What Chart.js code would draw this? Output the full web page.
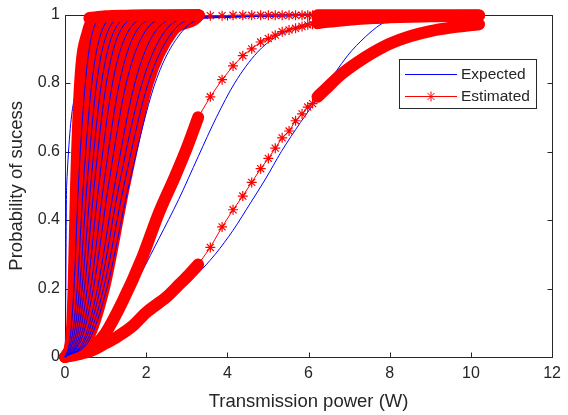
<!DOCTYPE html>
<html>
<head>
<meta charset="utf-8">
<script src="https://cdn.jsdelivr.net/npm/chart.js@4.4.0/dist/chart.umd.min.js"></script>
<style>
  html, body { margin:0; padding:0; background:#fff; }
  #wrap { width:568px; height:415px; }
</style>
</head>
<body>
<div id="wrap"><canvas id="probChart" width="568" height="415"></canvas></div>
<script>
const xTicks = [0, 2, 4, 6, 8, 10, 12];
const yTicks = [0, 0.2, 0.4, 0.6, 0.8, 1];

// steep curves near the origin: x position read at each probability level
const clusterLevels = [0, 0.05, 0.2, 0.5, 0.8, 0.95, 0.99];

const expectedClusterX = [
  [0, 0.01, 0.02, 0.04, 0.4, 0.55, 0.75],
  [0, 0.12, 0.22, 0.33, 0.5, 0.68, 0.95],
  [0, 0.16, 0.3, 0.45, 0.66, 0.9, 1.25],
  [0, 0.2, 0.36, 0.54, 0.78, 1.05, 1.45],
  [0, 0.24, 0.42, 0.63, 0.9, 1.2, 1.65],
  [0, 0.28, 0.48, 0.72, 1.02, 1.35, 1.85],
  [0, 0.32, 0.55, 0.83, 1.17, 1.55, 2.1],
  [0, 0.36, 0.63, 0.95, 1.34, 1.75, 2.35],
  [0, 0.4, 0.7, 1.07, 1.51, 1.97, 2.6],
  [0, 0.46, 0.8, 1.22, 1.72, 2.22, 2.9],
  [0, 0.5, 0.87, 1.33, 1.9, 2.45, 3.1],
  [0, 0.55, 0.95, 1.45, 2.05, 2.65, 3.3],
  [0, 0.6, 1.03, 1.57, 2.22, 2.88, 3.5]
];

const estimatedClusterX = [
  [0, 0.14, 0.2, 0.26, 0.36, 0.55, 0.8],
  [0, 0.15, 0.24, 0.33, 0.46, 0.64, 0.92],
  [0, 0.17, 0.29, 0.41, 0.58, 0.8, 1.12],
  [0, 0.19, 0.33, 0.49, 0.7, 0.95, 1.32],
  [0, 0.22, 0.38, 0.57, 0.81, 1.09, 1.52],
  [0, 0.25, 0.43, 0.65, 0.92, 1.23, 1.72],
  [0, 0.29, 0.5, 0.75, 1.05, 1.4, 1.92],
  [0, 0.33, 0.57, 0.86, 1.2, 1.58, 2.15],
  [0, 0.37, 0.64, 0.97, 1.36, 1.78, 2.4],
  [0, 0.42, 0.73, 1.1, 1.55, 2.02, 2.65],
  [0, 0.46, 0.8, 1.21, 1.68, 2.2, 2.85],
  [0, 0.5, 0.88, 1.33, 1.85, 2.4, 3.05],
  [0, 0.56, 0.97, 1.47, 2.05, 2.65, 3.25]
];

// plateau of the estimated curves along the top
const estTopDenseX = [0.6, 1.0, 1.5, 2.0, 2.5, 3.0, 3.3];
const estTopDenseY = [0.99, 0.995, 0.997, 0.998, 0.998, 0.998, 0.998];

// sampled powers where the estimated markers are sparse, then the dense tail
const sparseX = [3.58, 3.87, 4.14, 4.38, 4.6, 4.82, 5.01, 5.18, 5.35, 5.52, 5.68, 5.84, 5.98, 6.1, 6.22];
const tailX = [6.4, 6.8, 7.2, 7.6, 8.0, 8.5, 9.0, 9.5, 10.2];

const estTopSparseY = [0.997, 0.997, 0.998, 0.998, 0.998, 0.998, 0.998, 0.998, 0.998, 0.998, 0.998, 0.998, 0.998, 0.998, 0.998];
const estTopTailY = [0.998, 0.998, 0.998, 0.998, 0.998, 0.998, 0.998, 0.998, 0.998];

const est2DenseX = [0, 0.3, 0.78, 1.0, 1.41, 1.9, 2.31, 2.72, 3.0, 3.28];
const est2DenseY = [0, 0.01, 0.04, 0.07, 0.16, 0.29, 0.42, 0.53, 0.61, 0.70];
const est2SparseY = [0.76, 0.81, 0.85, 0.88, 0.90, 0.92, 0.93, 0.94, 0.95, 0.955, 0.96, 0.965, 0.97, 0.972, 0.975];
const est2TailY = [0.978, 0.983, 0.987, 0.99, 0.992, 0.994, 0.995, 0.996, 0.997];

const est3DenseX = [0, 0.4, 0.68, 1.0, 1.3, 1.66, 2.0, 2.5, 2.8, 3.05, 3.28];
const est3DenseY = [0, 0.01, 0.02, 0.04, 0.06, 0.09, 0.13, 0.175, 0.21, 0.24, 0.27];
const est3SparseY = [0.32, 0.38, 0.43, 0.47, 0.51, 0.55, 0.58, 0.61, 0.64, 0.66, 0.69, 0.71, 0.73, 0.74, 0.76];
const est3TailY = [0.78, 0.825, 0.86, 0.89, 0.915, 0.937, 0.952, 0.962, 0.972];

const exp2X = [0, 0.8, 1.41, 1.9, 2.31, 2.8, 3.28, 3.73, 4.18, 4.74, 5.2, 6.13, 7.0, 7.5, 10.2];
const exp2Y = [0, 0.035, 0.14, 0.25, 0.345, 0.46, 0.585, 0.7, 0.8, 0.89, 0.935, 0.98, 0.996, 1, 1];

const exp3X = [0, 1.0, 1.66, 2.0, 2.5, 3.2, 3.7, 4.14, 4.57, 4.94, 5.33, 5.8, 6.37, 6.96, 7.4, 7.76, 8.1, 8.4, 10.2];
const exp3Y = [0, 0.035, 0.08, 0.115, 0.16, 0.235, 0.3, 0.37, 0.45, 0.52, 0.6, 0.685, 0.78, 0.88, 0.935, 0.97, 0.99, 1, 1];

const BLUE = '#0000ff';
const RED = '#ff0000';
const AXIS = '#262626';
const FONT = '"Liberation Sans", Arial, Helvetica, sans-serif';

function pairs(xs, ys){
  return xs.map((x, i) => ({x, y: ys[i]}));
}

function blueLine(points){
  return {
    data: points,
    showLine: true,
    borderColor: BLUE,
    borderWidth: 1,
    pointRadius: 0,
    cubicInterpolationMode: 'monotone',
    clip: false
  };
}

function redBand(points, width){
  return {
    data: points,
    showLine: true,
    borderColor: RED,
    borderWidth: width || 12,
    borderCapStyle: 'round',
    borderJoinStyle: 'round',
    pointRadius: 0,
    cubicInterpolationMode: 'monotone',
    clip: false
  };
}

function redMarkers(points){
  return {
    data: points,
    showLine: true,
    borderColor: RED,
    borderWidth: 1,
    pointStyle: 'star',
    pointRadius: ctx => ctx.dataIndex === 0 ? 0 : 5,
    pointBorderColor: RED,
    pointBorderWidth: 1.2,
    clip: false
  };
}

// pushed bottom-to-top; reversed at the end because Chart.js paints dataset 0 last
function buildDatasets(){
  const sets = [];
  const clusterExp = expectedClusterX.map(xs => pairs(xs, clusterLevels).concat([{x: 10.2, y: 1}]));
  const clusterEst = estimatedClusterX.map(xs => pairs(xs, clusterLevels).concat([{x: 3.3, y: 0.998}]));

  sets.push(blueLine(clusterExp[0]));
  sets.push(blueLine(pairs(exp2X, exp2Y)));
  sets.push(blueLine(pairs(exp3X, exp3Y)));

  clusterEst.forEach(points => sets.push(redBand(points, 11)));
  sets.push(redBand(pairs(est2DenseX, est2DenseY)));
  sets.push(redBand(pairs(est3DenseX, est3DenseY)));

  clusterExp.slice(1).forEach(points => sets.push(blueLine(points)));

  sets.push(redBand(pairs(estTopDenseX, estTopDenseY)));

  sets.push(redMarkers([{x: 3.3, y: 0.998}].concat(pairs(sparseX, estTopSparseY))));
  sets.push(redMarkers([{x: 3.28, y: 0.70}].concat(pairs(sparseX, est2SparseY))));
  sets.push(redMarkers([{x: 3.28, y: 0.27}].concat(pairs(sparseX, est3SparseY))));

  const last = sparseX.length - 1;
  sets.push(redBand([{x: sparseX[last], y: estTopSparseY[last]}].concat(pairs(tailX, estTopTailY))));
  sets.push(redBand([{x: sparseX[last], y: est2SparseY[last]}].concat(pairs(tailX, est2TailY))));
  sets.push(redBand([{x: sparseX[last], y: est3SparseY[last]}].concat(pairs(tailX, est3TailY))));
  return sets.reverse();
}

const axesBox = {
  id: 'axesBox',
  beforeDatasetsDraw(chart){
    const {ctx, chartArea: a, scales} = chart;
    const l = Math.round(a.left) + 0.5, r = Math.round(a.right) + 0.5;
    const t = Math.round(a.top) + 0.5, b = Math.round(a.bottom) + 0.5;
    ctx.save();
    ctx.strokeStyle = AXIS;
    ctx.lineWidth = 1;
    ctx.beginPath();
    ctx.rect(l, t, r - l, b - t);
    xTicks.forEach(v => {
      const px = Math.round(scales.x.getPixelForValue(v)) + 0.5;
      ctx.moveTo(px, b); ctx.lineTo(px, b - 5);
      ctx.moveTo(px, t); ctx.lineTo(px, t + 5);
    });
    yTicks.forEach(v => {
      const py = Math.round(scales.y.getPixelForValue(v)) + 0.5;
      ctx.moveTo(l, py); ctx.lineTo(l + 5, py);
      ctx.moveTo(r, py); ctx.lineTo(r - 5, py);
    });
    ctx.stroke();
    ctx.restore();
  },
  afterDraw(chart){
    const {ctx, chartArea: a} = chart;
    ctx.save();
    ctx.fillStyle = AXIS;
    ctx.font = '18.5px ' + FONT;
    ctx.textAlign = 'center';
    ctx.textBaseline = 'middle';
    ctx.fillText('Transmission power (W)', (a.left + a.right) / 2, 402);
    ctx.translate(17, (a.top + a.bottom) / 2);
    ctx.rotate(-Math.PI / 2);
    ctx.fillText('Probability of sucess', 0, 0);
    ctx.restore();

    // legend box
    ctx.save();
    ctx.fillStyle = '#fff';
    ctx.strokeStyle = AXIS;
    ctx.lineWidth = 1;
    ctx.fillRect(399.5, 59.5, 137, 49);
    ctx.strokeRect(399.5, 59.5, 137, 49);
    ctx.strokeStyle = BLUE;
    ctx.beginPath(); ctx.moveTo(405, 74.5); ctx.lineTo(457, 74.5); ctx.stroke();
    ctx.strokeStyle = RED;
    ctx.beginPath(); ctx.moveTo(405, 96.5); ctx.lineTo(457, 96.5); ctx.stroke();
    Chart.helpers.drawPoint(ctx, {pointStyle: 'star', radius: 5, borderWidth: 1.2}, 431, 96.5);
    ctx.fillStyle = AXIS;
    ctx.font = '15.5px ' + FONT;
    ctx.textAlign = 'left';
    ctx.textBaseline = 'middle';
    ctx.fillText('Expected', 461, 75);
    ctx.fillText('Estimated', 461, 97);
    ctx.restore();
  }
};

new Chart(document.getElementById('probChart'), {
  type: 'scatter',
  data: {datasets: buildDatasets()},
  options: {
    responsive: false,
    animation: false,
    devicePixelRatio: 1,
    layout: {padding: {top: 9, right: 10, left: 0, bottom: 0}},
    plugins: {legend: {display: false}, tooltip: {enabled: false}},
    scales: {
      x: {
        type: 'linear',
        min: 0,
        max: 12,
        afterFit: scale => { scale.height = 58; },
        afterBuildTicks: scale => { scale.ticks = xTicks.map(v => ({value: v})); },
        ticks: {color: AXIS, font: {size: 16, family: FONT}, padding: 7, maxRotation: 0},
        grid: {display: false, drawTicks: false},
        border: {display: false}
      },
      y: {
        type: 'linear',
        min: 0,
        max: 1,
        afterFit: scale => { scale.width = 65; },
        afterBuildTicks: scale => { scale.ticks = yTicks.map(v => ({value: v})); },
        ticks: {color: AXIS, font: {size: 16, family: FONT}, padding: 5, callback: v => String(v)},
        grid: {display: false, drawTicks: false},
        border: {display: false}
      }
    }
  },
  plugins: [axesBox]
});
</script>
</body>
</html>
